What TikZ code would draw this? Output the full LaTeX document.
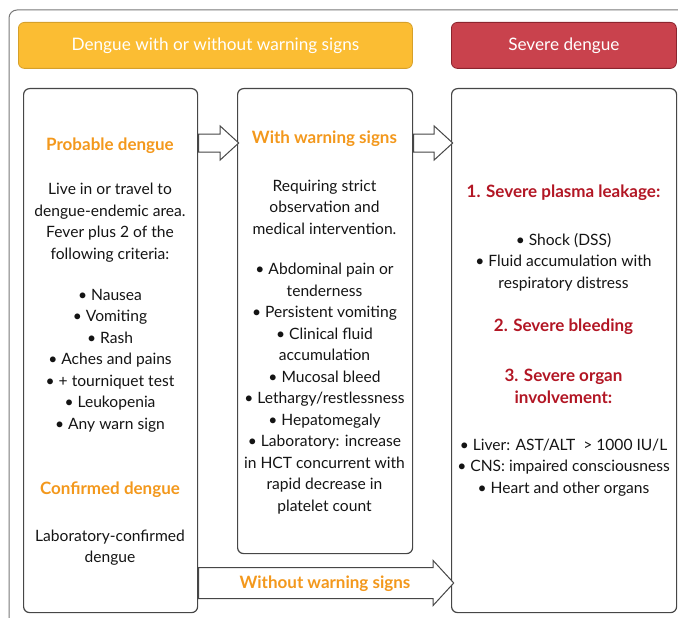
\documentclass[tikz,border=0pt]{standalone}
\usepackage{fontspec}
\setmainfont{Lato}
\usetikzlibrary{shapes.arrows,positioning,calc}
\definecolor{headyellow}{RGB}{251,189,51}
\definecolor{headyellowline}{RGB}{214,160,42}
\definecolor{headred}{RGB}{201,66,77}
\definecolor{headredline}{RGB}{140,36,46}
\definecolor{warnorange}{RGB}{243,152,28}
\definecolor{sevred}{RGB}{178,22,36}
\definecolor{boxgray}{RGB}{70,70,70}
\definecolor{framegray}{RGB}{120,120,120}
\tikzset{
	panel/.style={draw=boxgray, line width=1.2pt, rounded corners=6pt, anchor=north west, inner sep=0pt},
	header/.style={rounded corners=6pt, anchor=north west, text=white, line width=0.8pt, font=\fontsize{17.2}{20}\selectfont},
	body/.style={align=center, inner sep=0pt, text=black!92, font=\fontsize{15.6}{21.5}\selectfont},
	heading/.style={inner sep=0pt, font=\bfseries\fontsize{17}{20}\selectfont},
	hollow/.style={single arrow, draw=boxgray, fill=white, line width=1pt, inner xsep=0pt, anchor=west},
}

\begin{document}
\begin{tikzpicture}[x=1pt,y=-1pt]
		\useasboundingbox (0,0) rectangle (678,618);
		\clip (0,0) rectangle (678,618);
		%Outer frame
		\draw [draw=framegray, line width=1pt, rounded corners=8pt] (9,10) rectangle (700,640);
		%Headers
		\node [header, fill=headyellow, draw=headyellowline, minimum width=394, minimum height=46] (hdrmild) at (18,22) {Dengue with or without warning signs};
		\node [header, fill=headred, draw=headredline, minimum width=225, minimum height=46] (hdrsevere) at (451,22) {Severe dengue};
		%Panels
		\node [panel, minimum width=174, minimum height=524] (probable) at (23,88) {};
		\node [panel, minimum width=175, minimum height=465] (warning) at (237,88) {};
		\node [panel, minimum width=225, minimum height=524] (severe) at (451,88) {};
		%Arrows
		\node [hollow, inner ysep=8.5pt, minimum height=40, single arrow head extend=8pt, single arrow tip angle=85] (arrowA) at (probable.east |- 0,143) {};
		\node [hollow, inner ysep=8.5pt, minimum height=39, single arrow head extend=8pt, single arrow tip angle=85] (arrowB) at (warning.east |- 0,143) {};
		\node [hollow, inner ysep=15pt, minimum height=255, single arrow head extend=7pt, single arrow tip angle=95] (arrowC) at (probable.east |- 0,583) {};
		%Left panel
		\node [heading, text=warnorange] (probtitle) at (110,146) {Probable dengue};
		\node [body] (probtext) at (110,222.5) {Live in or travel to\\dengue-endemic area.\\Fever plus 2 of the\\following criteria:};
		\node [body] (problist) at (110,360.5) {• Nausea\\• Vomiting\\• Rash\\• Aches and pains\\• + tourniquet test\\• Leukopenia\\• Any warn sign};
		\node [heading, text=warnorange] (conftitle) at (110,490) {Confirmed dengue};
		\node [body] (conftext) at (110,547.5) {Laboratory-confirmed\\dengue};
		%Middle panel
		\node [heading, text=warnorange] (warntitle) at (324.5,139) {With warning signs};
		\node [body] (warntext) at (324.5,207) {Requiring strict\\observation and\\medical intervention.};
		\node [body] (warnlist) at (324.5,388.5) {• Abdominal pain or\\tenderness\\• Persistent vomiting\\• Clinical fluid\\accumulation\\• Mucosal bleed\\• Lethargy/restlessness\\• Hepatomegaly\\• Laboratory: increase\\in HCT concurrent with\\rapid decrease in\\platelet count};
		\node [heading, text=warnorange] (withoutlabel) at (325,584) {Without warning signs};
		%Right panel
		\node [heading, text=sevred] (leaktitle) at (563.5,193) {1. Severe plasma leakage:};
		\node [body] (leaklist) at (563.5,262) {• Shock (DSS)\\• Fluid accumulation with\\respiratory distress};
		\node [heading, text=sevred] (bleedtitle) at (563.5,327) {2. Severe bleeding};
		\node [heading, text=sevred, align=center, font=\bfseries\fontsize{17}{21.5}\selectfont] (organtitle) at (563.5,386.5) {3. Severe organ\\involvement:};
		\node [body] (organlist) at (563.5,467.5) {• Liver: AST/ALT~ > 1000 IU/L\\• CNS: impaired consciousness\\• Heart and other organs};
	\end{tikzpicture}
\end{document}
